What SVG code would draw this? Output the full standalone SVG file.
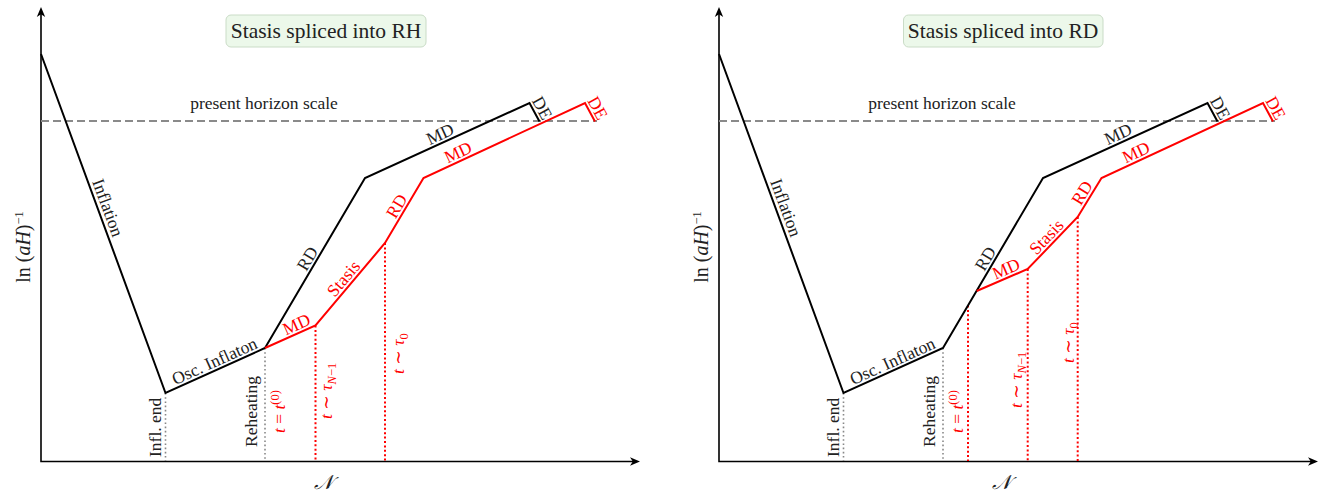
<svg xmlns="http://www.w3.org/2000/svg" width="1340" height="498" viewBox="0 0 1340 498">
<style>
.ax{stroke:#000;stroke-width:1.6;fill:none}
.bl{stroke:#000;stroke-width:2;fill:none}
.rd{stroke:#f00;stroke-width:2;fill:none}
.dash{stroke:#8a8a8a;stroke-width:2;stroke-dasharray:8 4;fill:none}
.gdot{stroke:#888;stroke-width:1.6;stroke-dasharray:1.6 2.6;fill:none}
.rdot{stroke:#f00;stroke-width:2;stroke-dasharray:2 2.4;fill:none}
text{font-family:"Liberation Serif","DejaVu Serif",serif;font-size:17.5px;fill:#222}
.r{fill:#f00}
.ttl{font-size:21.5px}
.box{fill:#ecf8ea;stroke:#cadcc7;stroke-width:1}
.it{font-style:italic}
.sm{font-size:12.5px}
</style>
<defs>
<marker id="arr" viewBox="-12 -6 14 12" refX="-7" refY="0" markerWidth="14" markerHeight="12" markerUnits="userSpaceOnUse" orient="auto-start-reverse" overflow="visible">
<path d="M0,0 L-10,-4.2 L-7.2,0 L-10,4.2 Z" fill="#000"/>
</marker>
</defs>

<g id="left-panel">
<g id="left-axes">
<path class="ax" d="M41,14 L41,461.5 L633,461.5" marker-start="url(#arr)" marker-end="url(#arr)"/>
<text transform="translate(30,247) rotate(-90)" text-anchor="middle" style="font-size:20px">ln (<tspan class="it">aH</tspan>)<tspan dy="-7" class="sm">−1</tspan></text>
<text x="323" y="489" text-anchor="middle" class="it" style="font-size:20px">𝒩</text>
</g>
<g id="left-title">
<rect class="box" x="226" y="15" width="200" height="32" rx="5"/>
<text class="ttl" x="326" y="37.5" text-anchor="middle">Stasis spliced into RH</text>
</g>
<g id="left-connectors">
<path class="dash" d="M41,121 H597"/>
<path class="gdot" d="M165.5,393 V461 M265,348 V461"/>
<path class="rdot" d="M315.5,325.5 V461 M385,243 V461"/>
<path class="bl" d="M41,54 L165.5,393 L265,348 L365,178 L529.5,103 L539.5,121.5"/>
<path class="rd" d="M265,348 L315.5,325.5 L385,243 L423.5,178 L585,103 L595,121.5"/>
</g>
<g id="left-labels">
<text x="264" y="109" text-anchor="middle" style="font-size:17.5px">present horizon scale</text>
<text transform="translate(98.7,211.1) rotate(69.83)" y="-4" text-anchor="middle">Inflation</text>
<text transform="translate(218.2,369.1) rotate(-24.34)" y="-3" text-anchor="middle">Osc. Inflaton</text>
<text transform="translate(315,263) rotate(-59.53)" y="-3" text-anchor="middle">RD</text>
<text transform="translate(443.7,142.1) rotate(-24.51)" y="-3" text-anchor="middle">MD</text>
<text transform="translate(534.5,112.25) rotate(61.6)" y="-3" text-anchor="middle">DE</text>
<text class="r" transform="translate(300.1,332.4) rotate(-24)" y="-3" text-anchor="middle">MD</text>
<text class="r" transform="translate(350.25,284.25) rotate(-49.89)" y="-3" text-anchor="middle">Stasis</text>
<text class="r" transform="translate(404.25,210.5) rotate(-59.36)" y="-3" text-anchor="middle">RD</text>
<text class="r" transform="translate(461.7,160.3) rotate(-24.91)" y="-3" text-anchor="middle">MD</text>
<text class="r" transform="translate(590,112.25) rotate(61.6)" y="-3" text-anchor="middle">DE</text>
<text transform="translate(161,457) rotate(-90)">Infl. end</text>
<text transform="translate(257,447) rotate(-90)">Reheating</text>
<text class="r" transform="translate(284.5,433) rotate(-90)"><tspan class="it">t</tspan> = <tspan class="it">t</tspan><tspan dy="-6" class="sm">(0)</tspan></text>
<text class="r" transform="translate(332,419) rotate(-90)"><tspan class="it">t</tspan> ∼ <tspan class="it">τ</tspan><tspan dy="4" class="sm"><tspan class="it">N</tspan>−1</tspan></text>
<text class="r" transform="translate(404,374) rotate(-90)"><tspan class="it">t</tspan> ∼ <tspan class="it">τ</tspan><tspan dy="4" class="sm">0</tspan></text>
</g>
</g>

<g id="right-panel">
<g id="right-axes">
<path class="ax" d="M719,14 L719,461.5 L1311,461.5" marker-start="url(#arr)" marker-end="url(#arr)"/>
<text transform="translate(708,247) rotate(-90)" text-anchor="middle" style="font-size:20px">ln (<tspan class="it">aH</tspan>)<tspan dy="-7" class="sm">−1</tspan></text>
<text x="1001" y="489" text-anchor="middle" class="it" style="font-size:20px">𝒩</text>
</g>
<g id="right-title">
<rect class="box" x="903.5" y="15" width="199.5" height="32" rx="5"/>
<text class="ttl" x="1003" y="37.5" text-anchor="middle">Stasis spliced into RD</text>
</g>
<g id="right-connectors">
<path class="dash" d="M719,121 H1275"/>
<path class="gdot" d="M843.5,393 V461 M943,348 V461"/>
<path class="rdot" d="M968,305.5 V461 M1027.7,269 V461 M1077.7,217 V461"/>
<path class="bl" d="M719,54 L843.5,393 L943,348 L1043,178 L1207.5,103 L1217.5,121.5"/>
<path class="rd" d="M976.7,291 L1027.7,269 L1077.7,217 L1101.5,178 L1263,103 L1273,121.5"/>
</g>
<g id="right-labels">
<text x="942" y="109" text-anchor="middle" style="font-size:17.5px">present horizon scale</text>
<text transform="translate(776.7,211.1) rotate(69.83)" y="-4" text-anchor="middle">Inflation</text>
<text transform="translate(896.2,369.1) rotate(-24.34)" y="-3" text-anchor="middle">Osc. Inflaton</text>
<text transform="translate(993,263) rotate(-59.53)" y="-3" text-anchor="middle">RD</text>
<text transform="translate(1121.7,142.1) rotate(-24.51)" y="-3" text-anchor="middle">MD</text>
<text transform="translate(1212.5,112.25) rotate(61.6)" y="-3" text-anchor="middle">DE</text>
<text class="r" transform="translate(1009.6,276.8) rotate(-23.33)" y="-3" text-anchor="middle">MD</text>
<text class="r" transform="translate(1052.7,243) rotate(-46.12)" y="-3" text-anchor="middle">Stasis</text>
<text class="r" transform="translate(1089.6,197.5) rotate(-58.6)" y="-3" text-anchor="middle">RD</text>
<text class="r" transform="translate(1139.7,160.3) rotate(-24.91)" y="-3" text-anchor="middle">MD</text>
<text class="r" transform="translate(1268,112.25) rotate(61.6)" y="-3" text-anchor="middle">DE</text>
<text transform="translate(839,457) rotate(-90)">Infl. end</text>
<text transform="translate(935,447) rotate(-90)">Reheating</text>
<text class="r" transform="translate(963,433) rotate(-90)"><tspan class="it">t</tspan> = <tspan class="it">t</tspan><tspan dy="-6" class="sm">(0)</tspan></text>
<text class="r" transform="translate(1022,408) rotate(-90)"><tspan class="it">t</tspan> ∼ <tspan class="it">τ</tspan><tspan dy="4" class="sm"><tspan class="it">N</tspan>−1</tspan></text>
<text class="r" transform="translate(1074,363) rotate(-90)"><tspan class="it">t</tspan> ∼ <tspan class="it">τ</tspan><tspan dy="4" class="sm">0</tspan></text>
</g>
</g>
</svg>
